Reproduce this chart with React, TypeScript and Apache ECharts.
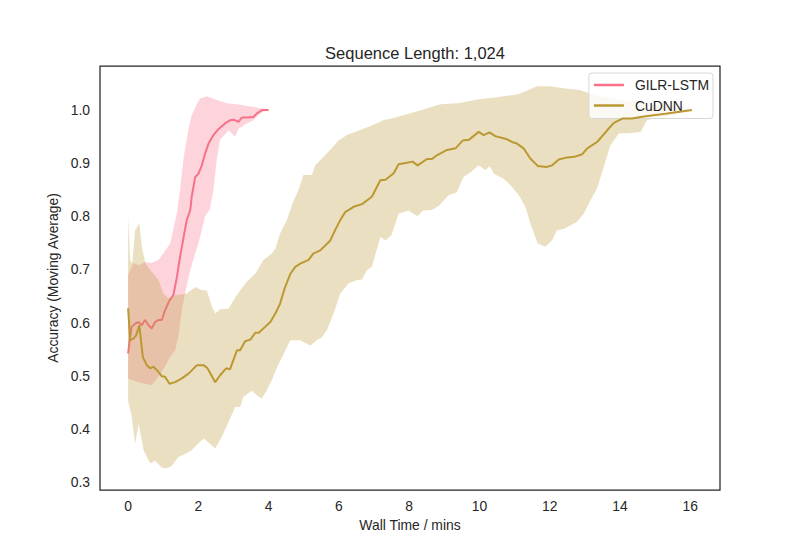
import React, { useEffect, useRef } from "react";
import * as echarts from "echarts";

// ---------- data ----------
const xTicks = [0, 2, 4, 6, 8, 10, 12, 14, 16];
const yTicks = [0.3, 0.4, 0.5, 0.6, 0.7, 0.8, 0.9, 1.0];

// GILR-LSTM moving-average accuracy
const gilrX = [0, 0.04, 0.1, 0.2, 0.29, 0.39, 0.48, 0.58, 0.67, 0.77, 0.86, 0.96, 1.05, 1.18, 1.29, 1.39, 1.48, 1.58, 1.67, 1.77, 1.81, 1.91, 2.0, 2.1, 2.19, 2.29, 2.43, 2.57, 2.76, 2.91, 3.0, 3.14, 3.24, 3.4, 3.57, 3.67, 3.81, 4.0];
const gilrY = [0.542, 0.564, 0.592, 0.598, 0.601, 0.595, 0.605, 0.595, 0.589, 0.601, 0.605, 0.605, 0.623, 0.642, 0.652, 0.686, 0.724, 0.761, 0.793, 0.812, 0.837, 0.874, 0.88, 0.896, 0.918, 0.937, 0.953, 0.964, 0.975, 0.981, 0.982, 0.978, 0.986, 0.986, 0.987, 0.994, 1.0, 1.0];
// GILR-LSTM band, upper edge
const gilrUpX = [0, 0.07, 0.15, 0.3, 0.48, 0.67, 0.86, 1.0, 1.2, 1.3, 1.4, 1.48, 1.58, 1.72, 1.81, 1.96, 2.05, 2.24, 2.53, 2.81, 3.19, 3.57, 4.0];
const gilrUpY = [0.69, 0.7, 0.712, 0.708, 0.714, 0.712, 0.718, 0.73, 0.749, 0.78, 0.81, 0.85, 0.91, 0.965, 0.99, 1.012, 1.022, 1.026, 1.019, 1.013, 1.01, 1.006, 1.0];
// GILR-LSTM band, lower edge
const gilrLoX = [0, 0.3, 0.67, 0.86, 1.05, 1.2, 1.34, 1.43, 1.53, 1.62, 1.77, 1.91, 2.0, 2.1, 2.19, 2.32, 2.43, 2.48, 2.53, 2.62, 2.86, 3.05, 3.14, 3.38, 3.57, 3.76, 4.0];
const gilrLoY = [0.495, 0.488, 0.482, 0.498, 0.517, 0.536, 0.548, 0.573, 0.623, 0.655, 0.699, 0.73, 0.749, 0.775, 0.8, 0.812, 0.849, 0.88, 0.91, 0.944, 0.962, 0.95, 0.965, 0.975, 0.981, 0.994, 1.0];

// CuDNN moving-average accuracy
const cudnnX = [0, 0.06, 0.15, 0.23, 0.32, 0.42, 0.53, 0.63, 0.72, 0.83, 0.96, 1.05, 1.18, 1.34, 1.53, 1.72, 1.96, 2.15, 2.26, 2.48, 2.62, 2.79, 2.9, 3.1, 3.19, 3.33, 3.48, 3.62, 3.72, 3.9, 4.05, 4.19, 4.33, 4.38, 4.47, 4.62, 4.76, 4.9, 5.14, 5.27, 5.47, 5.75, 5.9, 6.04, 6.18, 6.42, 6.66, 6.94, 7.18, 7.33, 7.56, 7.7, 7.94, 8.1, 8.24, 8.51, 8.65, 8.79, 9.08, 9.32, 9.53, 9.7, 9.98, 10.12, 10.29, 10.45, 10.79, 10.93, 11.07, 11.26, 11.45, 11.66, 11.91, 12.07, 12.26, 12.5, 12.7, 12.93, 13.07, 13.35, 13.64, 13.83, 14.07, 14.35, 14.59, 14.9, 15.3, 15.7, 16.05];
const cudnnY = [0.627, 0.567, 0.57, 0.576, 0.595, 0.535, 0.52, 0.514, 0.517, 0.51, 0.499, 0.498, 0.485, 0.488, 0.495, 0.504, 0.52, 0.52, 0.514, 0.488, 0.501, 0.514, 0.512, 0.548, 0.548, 0.565, 0.568, 0.581, 0.581, 0.592, 0.601, 0.617, 0.636, 0.648, 0.667, 0.692, 0.705, 0.711, 0.718, 0.73, 0.736, 0.754, 0.775, 0.793, 0.808, 0.818, 0.823, 0.837, 0.868, 0.869, 0.881, 0.898, 0.901, 0.903, 0.896, 0.908, 0.908, 0.915, 0.925, 0.928, 0.943, 0.944, 0.959, 0.953, 0.958, 0.951, 0.945, 0.94, 0.937, 0.928, 0.909, 0.895, 0.893, 0.896, 0.907, 0.911, 0.912, 0.917, 0.928, 0.94, 0.962, 0.976, 0.984, 0.984, 0.987, 0.99, 0.993, 0.997, 1.0];
// CuDNN band, upper edge
const cudnnUpX = [0, 0.057, 0.12, 0.2, 0.32, 0.39, 0.49, 0.63, 0.87, 1.0, 1.15, 1.39, 1.67, 1.91, 2.1, 2.24, 2.39, 2.48, 2.62, 2.86, 3.0, 3.19, 3.38, 3.62, 3.85, 4.09, 4.19, 4.33, 4.52, 4.71, 4.85, 4.99, 5.23, 5.33, 5.56, 5.75, 5.99, 6.23, 6.42, 6.7, 6.9, 7.27, 7.6, 8.03, 8.41, 8.89, 9.4, 9.93, 10.5, 11.1, 11.4, 11.64, 12.0, 12.4, 12.86, 13.16, 13.5, 14.0, 14.5, 15.0, 15.5, 16.05];
const cudnnUpY = [0.8, 0.718, 0.712, 0.774, 0.787, 0.743, 0.712, 0.699, 0.68, 0.655, 0.646, 0.652, 0.655, 0.667, 0.661, 0.661, 0.63, 0.617, 0.625, 0.626, 0.642, 0.661, 0.677, 0.692, 0.718, 0.73, 0.739, 0.768, 0.793, 0.83, 0.849, 0.878, 0.878, 0.896, 0.912, 0.925, 0.943, 0.953, 0.958, 0.965, 0.97, 0.981, 0.986, 0.994, 1.001, 1.011, 1.013, 1.02, 1.024, 1.03, 1.038, 1.045, 1.045, 1.041, 1.038, 1.031, 1.025, 1.02, 1.015, 1.01, 1.008, 1.003];
// CuDNN band, lower edge
const cudnnLoX = [0, 0.1, 0.2, 0.3, 0.44, 0.63, 0.77, 0.96, 1.1, 1.24, 1.43, 1.6, 1.81, 1.99, 2.15, 2.33, 2.48, 2.67, 2.86, 3.05, 3.19, 3.28, 3.52, 3.67, 3.81, 3.95, 4.09, 4.23, 4.38, 4.62, 4.9, 5.19, 5.37, 5.51, 5.66, 5.85, 6.04, 6.28, 6.5, 6.66, 6.8, 6.94, 7.18, 7.33, 7.5, 7.7, 7.98, 8.24, 8.4, 8.65, 8.85, 9.13, 9.35, 9.55, 9.75, 9.98, 10.17, 10.29, 10.41, 10.69, 10.88, 11.12, 11.31, 11.45, 11.66, 11.88, 12.07, 12.21, 12.4, 12.59, 12.78, 12.97, 13.16, 13.35, 13.54, 13.73, 13.97, 14.32, 14.59, 14.77, 14.96, 15.3, 15.7, 16.05];
const cudnnLoY = [0.452, 0.425, 0.372, 0.41, 0.36, 0.335, 0.34, 0.327, 0.326, 0.33, 0.347, 0.352, 0.36, 0.372, 0.382, 0.372, 0.363, 0.385, 0.413, 0.441, 0.441, 0.46, 0.472, 0.463, 0.457, 0.473, 0.491, 0.514, 0.535, 0.567, 0.567, 0.557, 0.567, 0.572, 0.586, 0.617, 0.655, 0.674, 0.68, 0.681, 0.699, 0.705, 0.761, 0.755, 0.765, 0.805, 0.811, 0.8, 0.811, 0.812, 0.82, 0.84, 0.845, 0.874, 0.883, 0.896, 0.887, 0.895, 0.88, 0.871, 0.859, 0.84, 0.818, 0.787, 0.749, 0.743, 0.755, 0.774, 0.776, 0.783, 0.79, 0.805, 0.83, 0.853, 0.893, 0.934, 0.956, 0.957, 0.959, 0.981, 0.984, 0.988, 0.993, 0.997];

const PINK = "#f77189";
const GOLD = "#bb9832";
const TEXT = "#262626";
const FONT = "'Liberation Sans', Arial, sans-serif";

const zip = (xs: number[], ys: number[]) => xs.map((x, i) => [x, ys[i]]);

function bandSeries(name: string, upX: number[], upY: number[], loX: number[], loY: number[], fill: string, z: number) {
  const up = zip(upX, upY);
  const lo = zip(loX, loY);
  const all = up.concat(lo);
  return {
    type: "custom",
    name,
    z,
    silent: true,
    clip: true,
    data: all,
    encode: { x: 0, y: 1 },
    renderItem: (params: any, api: any) => {
      if (params.dataIndex !== 0) return null;
      const pts = up.map((p) => api.coord(p)).concat(lo.slice().reverse().map((p) => api.coord(p)));
      return {
        type: "polygon",
        shape: { points: pts },
        style: { fill },
      };
    },
  };
}

export default function App() {
  const ref = useRef<HTMLDivElement>(null);
  useEffect(() => {
    if (!ref.current) return;
    const chart = echarts.init(ref.current, null, { renderer: "svg" });
    chart.setOption({
      animation: false,
      backgroundColor: "#ffffff",
      textStyle: { fontFamily: FONT, color: TEXT },
      title: {
        text: "Sequence Length: 1,024",
        left: 410,
        top: 39,
        textAlign: "center",
        textStyle: { fontFamily: FONT, fontSize: 16.5, fontWeight: "normal", color: TEXT },
      },
      grid: {
        left: 100,
        right: 80,
        top: 66,
        bottom: 60,
        show: true,
        borderColor: TEXT,
        borderWidth: 1.25,
        backgroundColor: "transparent",
      },
      legend: {
        data: ["GILR-LSTM", "CuDNN"],
        orient: "vertical",
        right: 87,
        top: 73,
        padding: [4, 4, 5, 5],
        itemGap: 4.5,
        itemWidth: 30,
        itemHeight: 2.5,
        icon: "rect",
        backgroundColor: "rgba(255,255,255,0.8)",
        borderColor: "#d6d6d6",
        borderWidth: 1,
        borderRadius: 3,
        textStyle: { fontFamily: FONT, fontSize: 13.9, color: TEXT, lineHeight: 16, padding: [0, 0, 0, 6] },
      },
      xAxis: {
        type: "value",
        min: -0.8,
        max: 16.85,
        name: "Wall Time / mins",
        nameLocation: "middle",
        nameGap: 26,
        nameTextStyle: { fontFamily: FONT, fontSize: 13.9, color: TEXT },
        axisLine: { show: false },
        axisTick: { show: false },
        splitLine: { show: false },
        axisLabel: {
          customValues: xTicks,
          margin: 9,
          fontFamily: FONT,
          fontSize: 13.9,
          color: TEXT,
          formatter: (v: number) => String(v),
        },
      },
      yAxis: {
        type: "value",
        min: 0.285,
        max: 1.083,
        name: "Accuracy (Moving Average)",
        nameLocation: "middle",
        nameGap: 32,
        nameRotate: 90,
        nameTextStyle: { fontFamily: FONT, fontSize: 13.9, color: TEXT },
        axisLine: { show: false },
        axisTick: { show: false },
        splitLine: { show: false },
        axisLabel: {
          customValues: yTicks,
          margin: 10,
          fontFamily: FONT,
          fontSize: 13.9,
          color: TEXT,
          formatter: (v: number) => v.toFixed(1),
        },
      },
      series: [
        bandSeries("GILR-LSTM band", gilrUpX, gilrUpY, gilrLoX, gilrLoY, "rgba(247,113,137,0.3)", 1),
        {
          type: "line",
          name: "GILR-LSTM",
          data: zip(gilrX, gilrY),
          showSymbol: false,
          symbol: "none",
          z: 2,
          color: PINK,
          lineStyle: { color: PINK, width: 2 },
        },
        bandSeries("CuDNN band", cudnnUpX, cudnnUpY, cudnnLoX, cudnnLoY, "rgba(187,152,50,0.3)", 3),
        {
          type: "line",
          name: "CuDNN",
          data: zip(cudnnX, cudnnY),
          showSymbol: false,
          symbol: "none",
          z: 4,
          color: GOLD,
          lineStyle: { color: GOLD, width: 2 },
        },
      ],
    });
    return () => chart.dispose();
  }, []);
  return (
    <div
      ref={ref}
      style={{ position: "fixed", left: 0, top: 0, width: 800, height: 550, background: "#fff" }}
    />
  );
}
